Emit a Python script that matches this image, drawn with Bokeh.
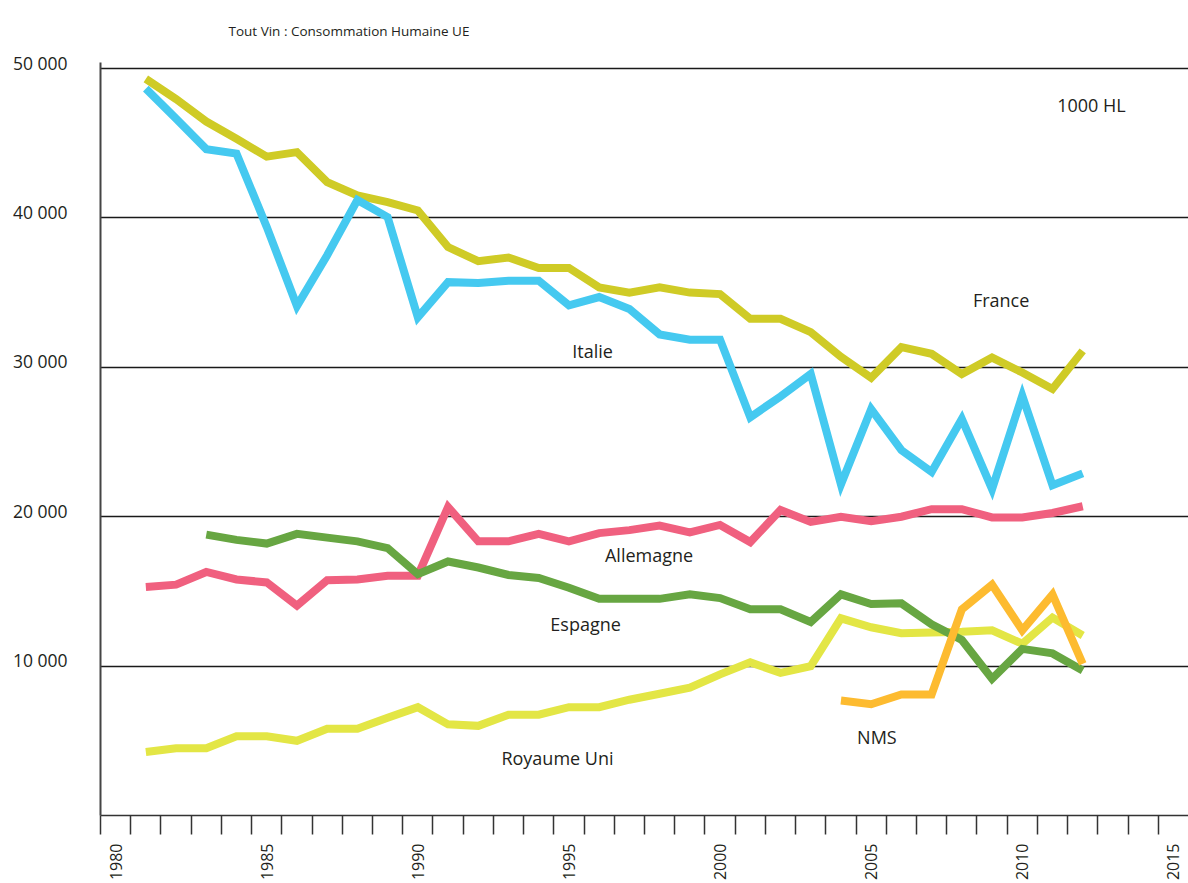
import math
from bokeh.plotting import figure
from bokeh.models import Range1d, FixedTicker, Label
from bokeh.embed import file_html
from bokeh.resources import INLINE

# ---------------- data (1000 HL) ----------------
years = [1981, 1982, 1983, 1984, 1985, 1986, 1987, 1988, 1989, 1990,
         1991, 1992, 1993, 1994, 1995, 1996, 1997, 1998, 1999, 2000,
         2001, 2002, 2003, 2004, 2005, 2006, 2007, 2008, 2009, 2010,
         2011, 2012]
years_spain = years[2:]
years_nms = [2004, 2005, 2006, 2007, 2008, 2009, 2010, 2011, 2012]

france = [49300, 47950, 46450, 45300, 44100, 44400, 42400, 41500, 41050, 40500,
          38050, 37100, 37350, 36650, 36650, 35350, 35000, 35350, 35000, 34900,
          33250, 33250, 32350, 30700, 29300, 31350, 30900, 29550, 30650, 29650,
          28550, 31100]
italie = [48650, 46650, 44600, 44300, 39400, 34100, 37500, 41200, 40050, 33350,
          35700, 35650, 35800, 35800, 34150, 34700, 33900, 32200, 31850, 31850,
          26650, 28050, 29550, 22150, 27200, 24450, 23000, 26550, 21850, 28100,
          22100, 22900]
allemagne = [15300, 15450, 16300, 15800, 15600, 14050, 15750, 15800, 16050, 16050,
             20650, 18350, 18350, 18850, 18350, 18900, 19100, 19400, 18950, 19450,
             18300, 20450, 19650, 20000, 19700, 20000, 20500, 20500, 19950, 19950,
             20250, 20700]
espagne = [18800, 18450, 18200, 18850, 18600, 18350, 17900, 16150,
           17000, 16600, 16100, 15900, 15250, 14500, 14500, 14500, 14800, 14550,
           13800, 13800, 12950, 14800, 14150, 14200, 12800, 11750, 9150, 11150,
           10850, 9700]
royaume_uni = [4250, 4500, 4500, 5300, 5300, 5000, 5800, 5800, 6550, 7250,
               6100, 6000, 6750, 6750, 7250, 7250, 7750, 8150, 8550, 9450,
               10250, 9550, 10000, 13200, 12600, 12200, 12250, 12300, 12400, 11500,
               13250, 12050]
nms = [7700, 7450, 8100, 8100, 13800, 15450, 12400, 14800, 10150]

y_ticks = [10000, 20000, 30000, 40000, 50000]
y_tick_labels = ["10 000", "20 000", "30 000", "40 000", "50 000"]
x_label_years = [1980, 1985, 1990, 1995, 2000, 2005, 2010, 2015]
x_tick_years = list(range(1980, 2016))

FONT = "Open Sans"
TXT = "#231F20"
Y_LABEL_SHIFT = 400  # labels sit a few pixels above their grid line

p = figure(width=1188, height=883, output_backend="svg", toolbar_location=None,
           x_range=Range1d(1980, 2016), y_range=Range1d(0, 50535),
           min_border_left=100, min_border_right=0, min_border_top=60,
           min_border_bottom=68)
p.outline_line_color = None
p.background_fill_color = "white"
p.border_fill_color = "white"

# title
p.title.text = "Tout Vin : Consommation Humaine UE"
p.title.text_font = FONT
p.title.text_font_size = "13.5px"
p.title.text_font_style = "normal"
p.title.text_color = TXT
p.title.align = "left"
p.title.offset = 128
p.title.vertical_align = "top"
p.title.standoff = 37

# grid
p.xgrid.visible = False
p.ygrid.ticker = FixedTicker(ticks=y_ticks)
p.ygrid.grid_line_color = "#1a1a1a"
p.ygrid.grid_line_width = 1.5

# y axis
y_label_pos = [v + Y_LABEL_SHIFT for v in y_ticks]
p.yaxis.ticker = FixedTicker(ticks=y_label_pos)
p.yaxis.bounds = (0, y_label_pos[-1])
p.yaxis.major_label_overrides = {pos: lab for pos, lab in zip(y_label_pos, y_tick_labels)}
p.yaxis.axis_line_color = "#444444"
p.yaxis.axis_line_width = 2
p.yaxis.major_tick_line_color = None
p.yaxis.major_tick_out = 0
p.yaxis.major_tick_in = 0
p.yaxis.minor_tick_line_color = None
p.yaxis.major_label_standoff = 33
p.yaxis.major_label_text_font = FONT
p.yaxis.major_label_text_font_size = "17.5px"
p.yaxis.major_label_text_color = TXT

# x axis: minor ticks every year, labels centred in the year
x_label_pos = [yr + 0.5 for yr in x_label_years]
p.xaxis.ticker = FixedTicker(ticks=x_label_pos, minor_ticks=x_tick_years)
p.xaxis.major_label_overrides = {pos: str(yr) for pos, yr in zip(x_label_pos, x_label_years)}
p.xaxis.axis_line_color = "#333333"
p.xaxis.axis_line_width = 1.5
p.xaxis.major_tick_line_color = None
p.xaxis.major_tick_in = 0
p.xaxis.major_tick_out = 19
p.xaxis.minor_tick_line_color = "#333333"
p.xaxis.minor_tick_line_width = 1.5
p.xaxis.minor_tick_in = 0
p.xaxis.minor_tick_out = 19
p.xaxis.major_label_standoff = 9
p.xaxis.major_label_orientation = math.pi / 2
p.xaxis.major_label_text_font = FONT
p.xaxis.major_label_text_font_size = "16px"
p.xaxis.major_label_text_color = TXT

def mid(ys):
    return [y + 0.5 for y in ys]

LW = 8
p.line(mid(years), france, line_color="#CFCB26", line_width=LW, line_join="miter")
p.line(mid(years), italie, line_color="#45C9F0", line_width=LW, line_join="miter")
p.line(mid(years), allemagne, line_color="#F0607F", line_width=LW, line_join="miter")
p.line(mid(years), royaume_uni, line_color="#E3E645", line_width=LW, line_join="miter")
p.line(mid(years_spain), espagne, line_color="#67A642", line_width=LW, line_join="miter")
p.line(mid(years_nms), nms, line_color="#FDBB30", line_width=LW, line_join="miter")

# texts inside the plot
texts = [
    ("1000 HL", 2012.79, 47588),
    ("France", 2009.80, 34536),
    ("Italie", 1996.28, 31122),
    ("Allemagne", 1998.15, 17469),
    ("Espagne", 1996.05, 12851),
    ("NMS", 2005.69, 5287),
    ("Royaume Uni", 1995.12, 3882),
]
for t, x, y in texts:
    p.add_layout(Label(x=x, y=y, text=t, text_align="center", text_baseline="middle",
                       text_font=FONT, text_font_size="18px", text_color=TXT))

open("out.html", "w").write(file_html(p, INLINE))
